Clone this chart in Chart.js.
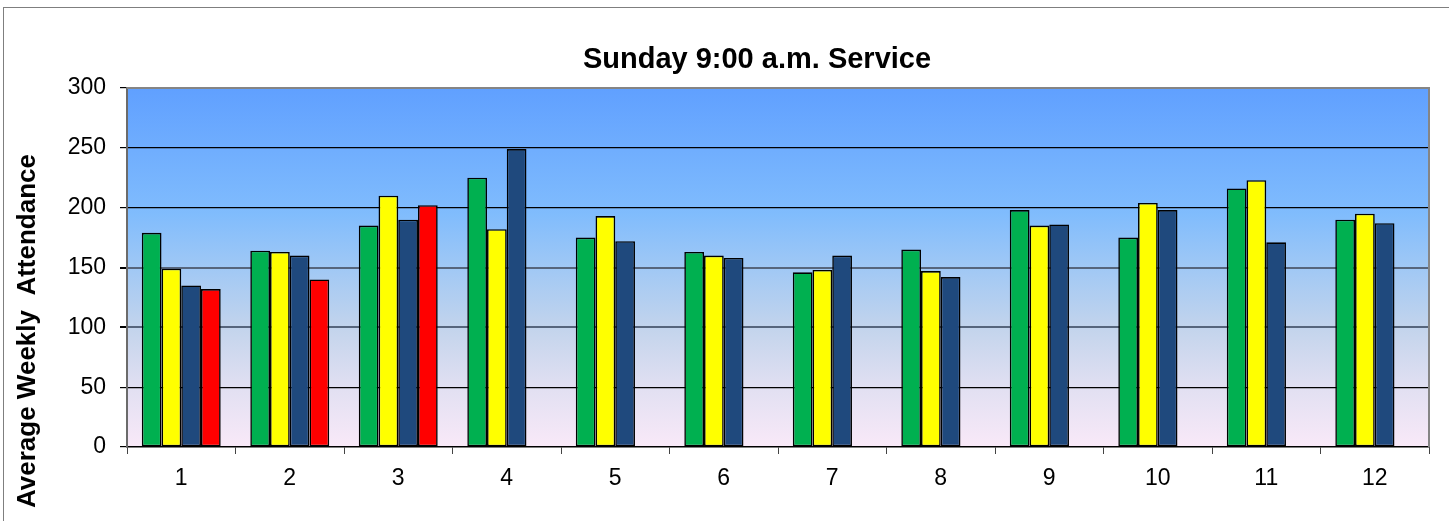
<!DOCTYPE html>
<html>
<head>
<meta charset="utf-8">
<script src="https://cdn.jsdelivr.net/npm/chart.js@4.4.1/dist/chart.umd.min.js"></script>
<style>
  html, body { margin: 0; padding: 0; background: #ffffff; }
  #wrap { width: 1449px; height: 521px; position: relative; }
</style>
</head>
<body>
<div id="wrap"><canvas id="c" width="1449" height="521"></canvas></div>
<script>
const chartTitle = "Sunday 9:00 a.m. Service";
const yAxisTitle = "Average Weekly  Attendance";
const categories = ["1","2","3","4","5","6","7","8","9","10","11","12"];
const seriesNames = ["Series 1","Series 2","Series 3","Series 4"];
const greenValues  = [179,164,185,225,175,163,146,165,198,175,216,190];
const yellowValues = [149,163,210,182,193,160,148,147,185,204,223,195];
const navyValues   = [135,160,190,249,172,158,160,142,186,198,171,187];
const redValues    = [132,140,202,null,null,null,null,null,null,null,null,null];
const yTicks = [0,50,100,150,200,250,300];

const FONT = "'Liberation Sans', Arial, Helvetica, sans-serif";

const decor = {
  id: 'decor',
  beforeDraw(chart) {
    const {ctx, chartArea: a} = chart;
    ctx.save();
    ctx.strokeStyle = '#7f7f7f';
    ctx.lineWidth = 1;
    ctx.strokeRect(3.5, 7.5, 1600, 700);
    const g = ctx.createLinearGradient(0, a.top, 0, a.bottom);
    g.addColorStop(0.00, '#60a0ff');
    g.addColorStop(0.35, '#80bcfd');
    g.addColorStop(0.50, '#a0c8f5');
    g.addColorStop(0.67, '#c3d4ec');
    g.addColorStop(0.84, '#e2e0f2');
    g.addColorStop(1.00, '#f9e9f8');
    ctx.fillStyle = g;
    ctx.fillRect(a.left, a.top, a.right - a.left, a.bottom - a.top);
    ctx.restore();
  },
  afterDraw(chart) {
    const {ctx, chartArea: a} = chart;
    ctx.save();
    ctx.strokeStyle = '#858585';
    ctx.lineWidth = 2;
    ctx.beginPath();
    ctx.moveTo(a.left, a.top);
    ctx.lineTo(a.right, a.top);
    ctx.lineTo(a.right, a.bottom);
    ctx.stroke();
    ctx.fillStyle = '#000';
    ctx.font = "bold 29px " + FONT;
    ctx.textAlign = 'center';
    ctx.textBaseline = 'middle';
    ctx.fillText(chartTitle, 757, 60);
    ctx.translate(28, 331);
    ctx.rotate(-Math.PI / 2);
    ctx.font = "bold 26px " + FONT;
    ctx.fillText(yAxisTitle, 0, 0);
    ctx.restore();
  }
};

const mk = (label, data, color) => ({
  label, data,
  backgroundColor: color,
  borderColor: '#000',
  borderWidth: 1.6,
  borderSkipped: false,
  categoryPercentage: 4 / 5.5,
  barPercentage: 1.0
});

new Chart(document.getElementById('c'), {
  type: 'bar',
  data: {
    labels: categories,
    datasets: [
      mk(seriesNames[0], greenValues, '#00b050'),
      mk(seriesNames[1], yellowValues, '#ffff00'),
      mk(seriesNames[2], navyValues, '#1f497d'),
      mk(seriesNames[3], redValues, '#ff0000')
    ]
  },
  options: {
    responsive: false,
    animation: false,
    devicePixelRatio: 1,
    layout: { padding: { top: 88, right: 20, bottom: 0, left: 0 } },
    plugins: {
      legend: { display: false },
      title: { display: false },
      tooltip: { enabled: false }
    },
    scales: {
      x: {
        offset: true,
        afterFit(scale) { scale.height = 74; },
        grid: {
          display: true,
          offset: true,
          drawOnChartArea: false,
          drawTicks: true,
          tickLength: 7,
          tickColor: '#444',
          lineWidth: 1
        },
        border: { display: true, color: '#000', width: 1.5 },
        ticks: {
          color: '#000',
          font: { family: FONT, size: 23 },
          padding: 11,
          maxRotation: 0,
          autoSkip: false
        }
      },
      y: {
        min: 0,
        max: 300,
        afterFit(scale) { scale.width = 127; },
        afterBuildTicks(scale) { scale.ticks = yTicks.map(v => ({ value: v })); },
        grid: {
          drawTicks: true,
          tickLength: 7,
          tickColor: '#000',
          color(ctx) {
            const v = ctx.tick && ctx.tick.value;
            if (v === 300 || v === 0) return 'rgba(0,0,0,0)';
            if (v === 100 || v === 150) return '#56657c';
            return '#000';
          },
          lineWidth(ctx) {
            const v = ctx.tick && ctx.tick.value;
            return (v === 100 || v === 150) ? 2 : 1.2;
          }
        },
        border: { display: true, color: '#6b6b6b', width: 2 },
        ticks: {
          color: '#000',
          font: { family: FONT, size: 23 },
          padding: 14,
          stepSize: 50
        }
      }
    }
  },
  plugins: [decor]
});
</script>
</body>
</html>
